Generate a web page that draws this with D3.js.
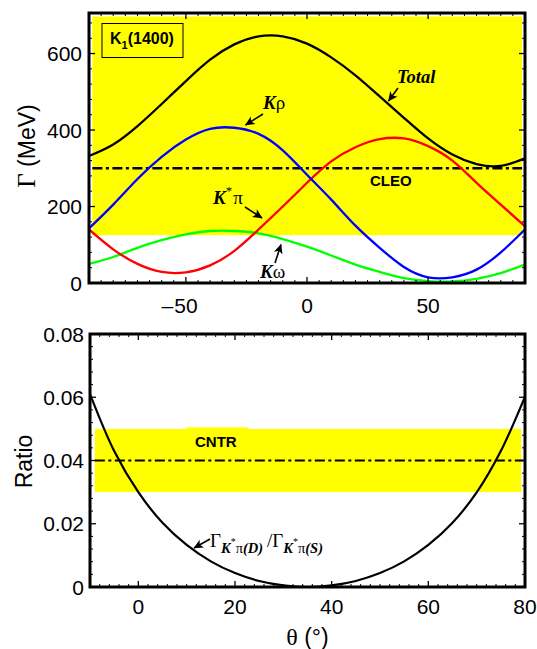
<!DOCTYPE html>
<html><head><meta charset="utf-8">
<script src="https://cdn.jsdelivr.net/npm/d3@7"></script>
<style>body{margin:0;background:#fff}</style>
</head><body>
<svg id="c" width="537" height="649"></svg>
<script>
// ---------- data ----------
const theta    = [-90,-80,-70,-60,-50,-40,-30,-20,-10,0,10,20,30,40,50,60,70,80,90];
const total    = [332,362,410,468,528,584,624,645,645,626,590,543,488,432,378,336,311,306,326];
const kRho     = [143,205,272,330,375,403,406,390,347,283,218,150,92,42,15,15,35,80,140];
const kStarPi  = [140,88,50,29,28,46,84,140,200,262,318,355,376,378,358,320,262,205,148];
const kOmega   = [50,68,92,112,127,136,136,130,115,95,72,48,29,13,5,4,11,26,48];
const cleoBand = [125, 697];
const cleoCentral = 300;
const cleoRange = [-88.6, 88.8];

const ratioTheta = [-10,-5,0,5,10,15,20,25,30,35,40,45,50,55,60,65,70,75,80];
const ratio      = [0.0610,0.0430,0.0300,0.0203,0.0133,0.0081,0.0044,0.0019,0.0005,0.0000,0.0005,0.0019,0.0044,0.0081,0.0133,0.0203,0.0299,0.0430,0.0602];
const cntrBand = [0.03, 0.05];
const cntrCentral = 0.04;
const cntrRange = [-9, 79.2];

const topXTicks = [-50, 0, 50];
const topYTicks = [0, 200, 400, 600];
const botXTicks = [0, 20, 40, 60, 80];
const botYTicks = [0, 0.02, 0.04, 0.06, 0.08];
const botYLabels = ["0", "0.02", "0.04", "0.06", "0.08"];

// ---------- layout ----------
const svg = d3.select('#c');
const P1 = {l:89, r:525, t:13, b:283};
const P2 = {l:90, r:525, t:334, b:587};
const x1 = d3.scaleLinear().domain([-90,90]).range([P1.l,P1.r]);
const y1 = d3.scaleLinear().domain([0,706]).range([P1.b,P1.t]);
const x2 = d3.scaleLinear().domain([-10,80]).range([P2.l,P2.r]);
const y2 = d3.scaleLinear().domain([0,0.08]).range([P2.b,P2.t]);

const SANS = '"Liberation Sans", Arial, Helvetica, sans-serif';
const SERIF = '"Liberation Serif", "Times New Roman", serif';

const defs = svg.append('defs');
defs.append('clipPath').attr('id','cp1').append('rect')
  .attr('x',P1.l).attr('y',P1.t).attr('width',P1.r-P1.l).attr('height',P1.b-P1.t);
defs.append('clipPath').attr('id','cp2').append('rect')
  .attr('x',P2.l).attr('y',P2.t).attr('width',P2.r-P2.l).attr('height',P2.b-P2.t);
defs.append('marker').attr('id','ah').attr('viewBox','-10 -5 11 10')
  .attr('refX',0).attr('refY',0).attr('markerWidth',11).attr('markerHeight',10)
  .attr('markerUnits','userSpaceOnUse').attr('orient','auto')
  .append('path').attr('d','M0.5,0 L-9,-4.5 L-6.5,0 L-9,4.5 Z').attr('fill','#000');

function arrow(xa, ya, xb, yb) {
  svg.append('line').attr('x1',xa).attr('y1',ya).attr('x2',xb).attr('y2',yb)
    .attr('stroke','#000').attr('stroke-width',1.6).attr('marker-end','url(#ah)');
}

function frameTicks(P, xs, ys, xMaj, xMin, yMaj, yMin) {
  const g = svg.append('g').attr('stroke','#000');
  const ML = 6, mL = 3;
  xMin.forEach(v => {
    const X = xs(v);
    g.append('line').attr('x1',X).attr('x2',X).attr('y1',P.b).attr('y2',P.b-mL).attr('stroke-width',1);
    g.append('line').attr('x1',X).attr('x2',X).attr('y1',P.t).attr('y2',P.t+mL).attr('stroke-width',1);
  });
  xMaj.forEach(v => {
    const X = xs(v);
    g.append('line').attr('x1',X).attr('x2',X).attr('y1',P.b).attr('y2',P.b-ML).attr('stroke-width',1.3);
    g.append('line').attr('x1',X).attr('x2',X).attr('y1',P.t).attr('y2',P.t+ML).attr('stroke-width',1.3);
  });
  yMin.forEach(v => {
    const Y = ys(v);
    g.append('line').attr('y1',Y).attr('y2',Y).attr('x1',P.l).attr('x2',P.l+mL).attr('stroke-width',1);
    g.append('line').attr('y1',Y).attr('y2',Y).attr('x1',P.r).attr('x2',P.r-mL).attr('stroke-width',1);
  });
  yMaj.forEach(v => {
    const Y = ys(v);
    g.append('line').attr('y1',Y).attr('y2',Y).attr('x1',P.l).attr('x2',P.l+ML).attr('stroke-width',1.3);
    g.append('line').attr('y1',Y).attr('y2',Y).attr('x1',P.r).attr('x2',P.r-ML).attr('stroke-width',1.3);
  });
  svg.append('rect').attr('x',P.l).attr('y',P.t).attr('width',P.r-P.l).attr('height',P.b-P.t)
    .attr('fill','none').attr('stroke','#000').attr('stroke-width',3);
}

// ================= TOP PANEL =================
svg.append('rect').attr('x',x1(cleoRange[0])).attr('y',y1(cleoBand[1]))
  .attr('width',x1(cleoRange[1])-x1(cleoRange[0])).attr('height',y1(cleoBand[0])-y1(cleoBand[1]))
  .attr('fill','#ffff00');

svg.append('line').attr('x1',x1(cleoRange[0])).attr('x2',x1(cleoRange[1]))
  .attr('y1',y1(cleoCentral)).attr('y2',y1(cleoCentral))
  .attr('stroke','#000').attr('stroke-width',2.4).attr('stroke-dasharray','10,3.5,3,3.5');

const gc1 = svg.append('g').attr('clip-path','url(#cp1)');
const line1 = d3.line().x((d,i)=>x1(theta[i])).y(d=>y1(d)).curve(d3.curveNatural);
[[kOmega,'#00ff00'],[kStarPi,'#ff0000'],[kRho,'#0000ff'],[total,'#000000']].forEach(([s,c]) => {
  gc1.append('path').attr('d',line1(s)).attr('fill','none').attr('stroke',c).attr('stroke-width',2.3);
});

frameTicks(P1, x1, y1, topXTicks,
  d3.range(-90, 90.1, 5).filter(v => !topXTicks.includes(v)),
  topYTicks,
  d3.range(0, 706, 40).filter(v => !topYTicks.includes(v)));

// tick labels
topYTicks.forEach(v => {
  svg.append('text').attr('x',82).attr('y',y1(v)+7.5).attr('text-anchor','end')
    .attr('font-family',SANS).attr('font-size',21).text(String(v));
});
function xLabel(X, Y, v) {
  const t = svg.append('text').attr('x',X).attr('y',Y).attr('text-anchor','middle')
    .attr('font-family',SANS).attr('font-size',21).text(String(Math.abs(v)));
  if (v < 0) {
    const w = t.node().getComputedTextLength();
    svg.append('text').attr('x',X - w/2 - 1).attr('y',Y).attr('text-anchor','end')
      .attr('font-family',SANS).attr('font-size',21).text('\u2013');
  }
}
topXTicks.forEach(v => xLabel(x1(v), 312.5, v));

// axis title
const gt = svg.append('text').attr('transform','translate(35,146) rotate(-90)')
  .attr('text-anchor','middle').attr('font-size',23).attr('font-family',SANS);
gt.append('tspan').attr('font-family',SERIF).attr('font-size',25).text('\u0393');
gt.append('tspan').text(' (MeV)');

// K1(1400) box
svg.append('rect').attr('x',102).attr('y',23.5).attr('width',81).attr('height',34)
  .attr('fill','none').attr('stroke','#000').attr('stroke-width',1);
const kb = svg.append('text').attr('x',110).attr('y',43.5).attr('font-family',SANS)
  .attr('font-weight','bold').attr('font-size',16);
kb.append('tspan').text('K');
kb.append('tspan').attr('font-size',11).attr('dy',5.5).text('1');
kb.append('tspan').attr('dy',-5.5).text('(1400)');

// Total
svg.append('text').attr('x',397).attr('y',83).attr('font-family',SERIF)
  .attr('font-weight','bold').attr('font-style','italic').attr('font-size',18.5).text('Total');
arrow(398, 88, 388.5, 101);

// K rho
const tr = svg.append('text').attr('x',263).attr('y',109).attr('font-family',SERIF).attr('font-size',19);
tr.append('tspan').attr('font-weight','bold').attr('font-style','italic').text('K');
tr.append('tspan').text('\u03C1');
arrow(263, 114, 245.5, 125);

// K* pi
const tp = svg.append('text').attr('x',213).attr('y',204).attr('font-family',SERIF).attr('font-size',19);
tp.append('tspan').attr('font-weight','bold').attr('font-style','italic').text('K');
tp.append('tspan').attr('font-size',13).attr('dy',-9).text('*');
tp.append('tspan').attr('dy',9).attr('dx',1).text('\u03C0');
arrow(245, 207, 262, 218);

// K omega
const to = svg.append('text').attr('x',260).attr('y',278).attr('font-family',SERIF).attr('font-size',19);
to.append('tspan').attr('font-weight','bold').attr('font-style','italic').text('K');
to.append('tspan').text('\u03C9');
arrow(275, 263, 281, 244.5);

// CLEO
svg.append('text').attr('x',370).attr('y',186).attr('font-family',SANS).attr('font-weight','bold')
  .attr('font-size',15).text('CLEO');

// ================= BOTTOM PANEL =================
svg.append('rect').attr('x',x2(cntrRange[0])).attr('y',y2(cntrBand[1]))
  .attr('width',x2(cntrRange[1])-x2(cntrRange[0])).attr('height',y2(cntrBand[0])-y2(cntrBand[1]))
  .attr('fill','#ffff00');
svg.append('rect').attr('x',187).attr('y',427.3).attr('width',61).attr('height',22).attr('fill','#ffff00');

svg.append('line').attr('x1',x2(-9)).attr('x2',x2(79.7))
  .attr('y1',y2(cntrCentral)).attr('y2',y2(cntrCentral))
  .attr('stroke','#000').attr('stroke-width',2.2).attr('stroke-dasharray','10,3.5,3,3.5');

const gc2 = svg.append('g').attr('clip-path','url(#cp2)');
const line2 = d3.line().x((d,i)=>x2(ratioTheta[i])).y(d=>y2(d)).curve(d3.curveCatmullRom.alpha(0.5));
gc2.append('path').attr('d',line2(ratio)).attr('fill','none').attr('stroke','#000').attr('stroke-width',2.2);

frameTicks(P2, x2, y2, botXTicks,
  d3.range(-10, 80.1, 2).filter(v => !botXTicks.includes(v)),
  botYTicks,
  d3.range(0, 0.0801, 0.004).filter(v => !botYTicks.some(t => Math.abs(t-v) < 1e-9)));

botYTicks.forEach((v,i) => {
  svg.append('text').attr('x',84).attr('y',y2(v)+7.5).attr('text-anchor','end')
    .attr('font-family',SANS).attr('font-size',21).text(botYLabels[i]);
});
botXTicks.forEach(v => xLabel(x2(v), 614, v));

svg.append('text').attr('transform','translate(31.5,461.5) rotate(-90)')
  .attr('text-anchor','middle').attr('font-size',23).attr('font-family',SANS).text('Ratio');

const xt = svg.append('text').attr('x',307.5).attr('y',645).attr('text-anchor','middle')
  .attr('font-family',SANS).attr('font-size',23);
xt.append('tspan').attr('font-family',SERIF).attr('font-size',24).text('\u03B8');
xt.append('tspan').text(' (\u00B0)');

svg.append('text').attr('x',195).attr('y',447).attr('font-family',SANS).attr('font-weight','bold')
  .attr('font-size',15).text('CNTR');

// ratio label
const rl = svg.append('text').attr('x',210).attr('y',547).attr('font-family',SERIF).attr('font-size',19);
rl.append('tspan').text('\u0393');
rl.append('tspan').attr('dy',6).attr('font-size',14.5).attr('font-weight','bold').attr('font-style','italic').text('K');
rl.append('tspan').attr('dy',-8).attr('font-size',10).text('*');
rl.append('tspan').attr('dy',8).attr('font-size',14.5).text('\u03C0');
rl.append('tspan').attr('font-size',14.5).attr('font-weight','bold').attr('font-style','italic').text('(D)');
rl.append('tspan').attr('x',267).attr('dy',-6).text('/\u0393');
rl.append('tspan').attr('dy',6).attr('font-size',14.5).attr('font-weight','bold').attr('font-style','italic').text('K');
rl.append('tspan').attr('dy',-8).attr('font-size',10).text('*');
rl.append('tspan').attr('dy',8).attr('font-size',14.5).text('\u03C0');
rl.append('tspan').attr('font-size',14.5).attr('font-weight','bold').attr('font-style','italic').text('(S)');
arrow(210, 539, 194, 548);
</script>
</body></html>
